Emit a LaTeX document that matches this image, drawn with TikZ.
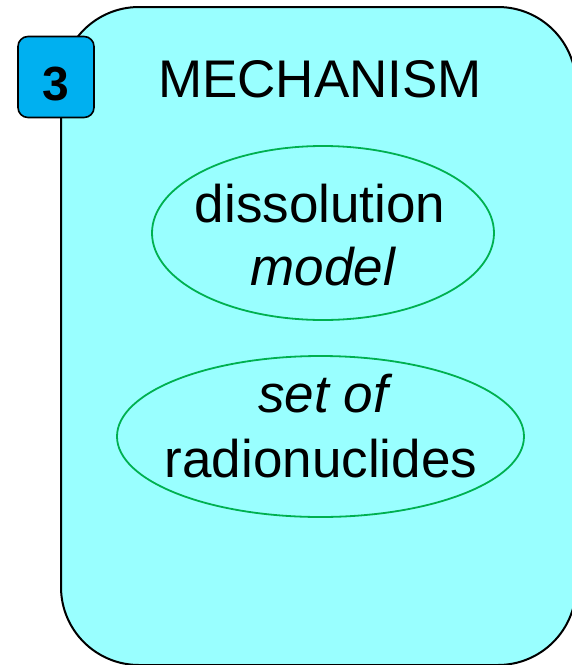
\documentclass[tikz,border=0pt]{standalone}
\usepackage{fontspec}
\setmainfont{Liberation Sans}
\usepackage{xcolor}
\definecolor{panelcyan}{HTML}{99FFFF}
\definecolor{badgeblue}{HTML}{00B0F0}
\definecolor{ovalgreen}{HTML}{00B050}
\usetikzlibrary{shapes.geometric, positioning}

\begin{document}
\begin{tikzpicture}[
  x=1pt, y=-1pt,
  panel/.style={draw=black, line width=2pt, fill=panelcyan, rounded corners=78pt},
  badge/.style={draw=black, line width=1.6pt, fill=badgeblue, rounded corners=10pt, minimum width=76pt, minimum height=81pt, inner sep=0pt},
  oval/.style={ellipse, draw=ovalgreen, line width=1.8pt, inner sep=0pt},
  bigtext/.style={font=\fontsize{53}{63}\selectfont, anchor=base, inner sep=0pt}
]
\useasboundingbox (0,0) rectangle (572,665);
\clip (0,0) rectangle (572,665);
\draw[panel] (61,7) rectangle (576,665);
\node[badge] (num) at (56,77) {};
\node[font=\fontsize{48}{48}\selectfont\bfseries, anchor=base, inner sep=0pt] (numtext) at (56,100) {3};
\node[bigtext] (title) at (320,97) {MECHANISM};
\node[oval, minimum width=342pt, minimum height=174pt] (model) at (323,233) {};
\node[bigtext] (modelA) at (320,222) {dissolution};
\node[bigtext] (modelB) at (323,285) {\itshape model};
\node[oval, minimum width=407pt, minimum height=161pt] (nuclides) at (320.5,436.5) {};
\node[bigtext] (nuclA) at (323,412) {\itshape set of};
\node[bigtext] (nuclB) at (321,477) {radionuclides};
\end{tikzpicture}
\end{document}
